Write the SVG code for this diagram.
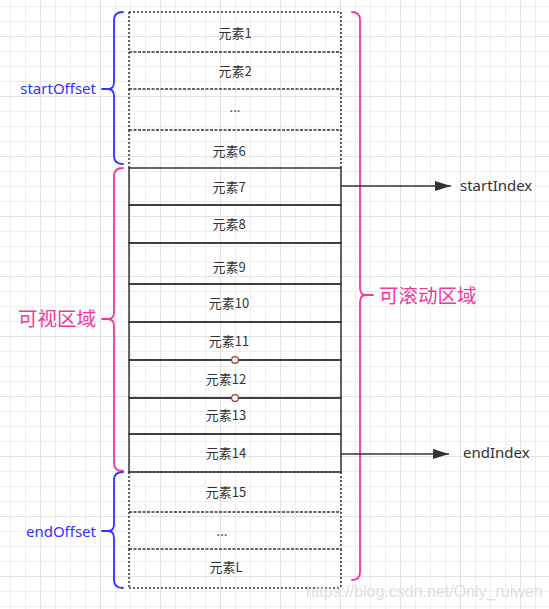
<svg xmlns="http://www.w3.org/2000/svg" width="549" height="609" viewBox="0 0 549 609">
<defs>
<pattern id="gridS" patternUnits="userSpaceOnUse" x="10" y="6" width="15" height="15">
<path d="M0,0.5H15M0.5,0V15" fill="none" stroke="#eeeeee" stroke-width="1"/>
</pattern>
<pattern id="gridL" patternUnits="userSpaceOnUse" x="40" y="36" width="60" height="60">
<path d="M0,0.5H60M0.5,0V60" fill="none" stroke="#e2e2e2" stroke-width="1"/>
</pattern>
<marker id="arrow" viewBox="0 0 16 10" refX="16" refY="5" markerWidth="16" markerHeight="10" markerUnits="userSpaceOnUse" orient="auto">
<path d="M0,0L16,5L0,10Z" fill="#333"/>
</marker>
</defs>
<style>
.dot{fill:none;stroke:#333;stroke-width:1.5;stroke-dasharray:2 2}
.dash{fill:none;stroke:#333;stroke-width:1.5;stroke-dasharray:3 1.5}
.sol{fill:none;stroke:#333;stroke-width:1.5}
.lbl{font-family:"Noto Sans CJK SC","Noto Sans",sans-serif;font-size:13px;fill:#333;text-anchor:middle}
.en{font-family:"Noto Sans","Liberation Sans",sans-serif;font-size:15px}
.cn{font-family:"Noto Sans CJK SC",sans-serif;font-size:19.5px;fill:#f0399b}
.blue{fill:none;stroke:#3333ff;stroke-width:1.8;stroke-linejoin:round;stroke-linecap:round}
.pink{fill:none;stroke:#f0399b;stroke-width:1.8;stroke-linejoin:round;stroke-linecap:round}
.conn{stroke:#333;stroke-width:1.5;fill:none}
.port{fill:#fff;stroke:#a03a3a;stroke-width:1.2}
</style>
<rect width="549" height="609" fill="#fff"/>
<rect width="549" height="609" fill="url(#gridS)"/>
<rect width="549" height="609" fill="url(#gridL)"/>

<g id="item1"><path class="dot" d="M129,12H341M129,12V52M341,12V52"/><text class="lbl" x="235" y="37.5">元素1</text></g>
<g id="item2"><path class="dash" d="M129,52H341"/><path class="dot" d="M129,52V89M341,52V89"/><text class="lbl" x="235" y="76">元素2</text></g>
<g id="item3"><path class="dash" d="M129,89H341"/><path class="dot" d="M129,89V130M341,89V130"/><text class="lbl" x="235" y="112">...</text></g>
<g id="item6"><path class="dash" d="M129,130H341"/><path class="dot" d="M129,130V168M341,130V168"/><text class="lbl" x="229" y="156">元素6</text></g>
<g id="item15"><path class="dot" d="M129,472H341M129,472V512M341,472V512"/><text class="lbl" x="226" y="496.5">元素15</text></g>
<g id="item16"><path class="dash" d="M129,512H341"/><path class="dot" d="M129,512V549M341,512V549"/><text class="lbl" x="222" y="535.5">...</text></g>
<g id="itemL"><path class="dash" d="M129,549H341"/><path class="dot" d="M129,549V588M341,549V588M129,588H341"/><text class="lbl" x="226" y="572">元素L</text></g>

<g id="item7"><rect class="sol" x="129" y="168" width="212" height="37"/><text class="lbl" x="229" y="192">元素7</text></g>
<g id="item8"><rect class="sol" x="129" y="205" width="212" height="38"/><text class="lbl" x="229" y="229">元素8</text></g>
<g id="item9"><rect class="sol" x="129" y="243" width="212" height="41"/><text class="lbl" x="229" y="272">元素9</text></g>
<g id="item10"><rect class="sol" x="129" y="284" width="212" height="38"/><text class="lbl" x="229" y="308">元素10</text></g>
<g id="item11"><rect class="sol" x="129" y="322" width="212" height="38"/><text class="lbl" x="229" y="346">元素11</text></g>
<g id="item12"><rect class="sol" x="129" y="360" width="212" height="38"/><text class="lbl" x="226" y="384">元素12</text></g>
<g id="item13"><rect class="sol" x="129" y="398" width="212" height="36"/><text class="lbl" x="226" y="420">元素13</text></g>
<g id="item14"><rect class="sol" x="129" y="434" width="212" height="38"/><text class="lbl" x="226" y="458">元素14</text></g>
<g id="ports"><circle class="port" cx="235" cy="360" r="3.4"/><circle class="port" cx="235" cy="398" r="3.4"/></g>

<g id="startOffset"><path class="blue" d="M123,12Q114,12 114,20L114,82Q114,89 108,89L102,89L108,89Q114,89 114,96L114,156Q114,164 123,164"/><text class="en" x="96" y="94" text-anchor="end" fill="#3333ff">startOffset</text></g>
<g id="visible"><path class="pink" d="M123,168Q114,168 114,176L114,312Q114,319 108,319L102,319L108,319Q114,319 114,326L114,463Q114,471 123,471"/><text class="cn" x="96" y="326" text-anchor="end">可视区域</text></g>
<g id="endOffset"><path class="blue" d="M123,472Q114,472 114,480L114,524Q114,531 108,531L102,531L108,531Q114,531 114,538L114,580Q114,588 123,588"/><text class="en" x="96" y="537" text-anchor="end" fill="#3333ff">endOffset</text></g>
<g id="scrollable"><path class="pink" d="M352,12Q360,12 360,20L360,288Q360,295 366,295L373,295L366,295Q360,295 360,302L360,572Q360,580 352,580"/><text class="cn" x="379" y="303">可滚动区域</text></g>

<g id="startIndex"><text class="en" x="460" y="191" fill="#333">startIndex</text></g>
<g id="endIndex"><text class="en" x="463" y="458" fill="#333">endIndex</text></g>

<g id="connectors">
<line class="conn" x1="341" y1="186" x2="451" y2="186" marker-end="url(#arrow)"/>
<line class="conn" x1="341" y1="454" x2="449" y2="454" marker-end="url(#arrow)"/>
</g>

<text x="306" y="597" font-family="Liberation Sans, sans-serif" font-size="16" fill="#d6d6d6" fill-opacity="0.8">https://blog.csdn.net/Only_ruiwen</text>
</svg>
